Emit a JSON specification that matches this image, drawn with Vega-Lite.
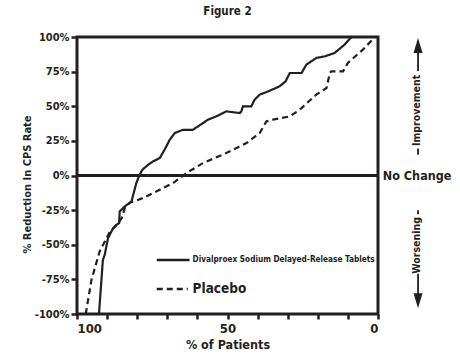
{
  "$schema": "https://vega.github.io/schema/vega-lite/v6.json",
  "width": 301,
  "height": 277,
  "autosize": {"type": "none"},
  "padding": {"left": 77, "top": 37, "right": 82, "bottom": 45},
  "background": "white",
  "title": {"text": "Figure 2", "fontSize": 11.5, "fontWeight": "bold", "font": "Liberation Sans Narrow, DejaVu Sans Condensed, Roboto Condensed, Roboto, sans-serif", "anchor": "middle", "offset": 14, "color": "#231f20"},
  "config": {
    "view": {"stroke": "#231f20", "strokeWidth": 3},
    "font": "Liberation Sans Narrow, DejaVu Sans Condensed, Roboto Condensed, Roboto, sans-serif",
    "axis": {"grid": false, "domain": false, "labelOverlap": false, "labelFont": "Liberation Sans Narrow, DejaVu Sans Condensed, Roboto Condensed, Roboto, sans-serif", "titleFont": "Liberation Sans Narrow, DejaVu Sans Condensed, Roboto Condensed, Roboto, sans-serif", "labelFontWeight": "bold", "titleFontWeight": "bold", "labelColor": "#231f20", "titleColor": "#231f20", "tickColor": "#231f20", "tickWidth": 2.5}
  },
  "datasets": {
    "curves": [
      {"group": "Divalproex", "pct": 92.7, "change": -100},
      {"group": "Divalproex", "pct": 91.4, "change": -61},
      {"group": "Divalproex", "pct": 90.8, "change": -57.3},
      {"group": "Divalproex", "pct": 89.7, "change": -45.3},
      {"group": "Divalproex", "pct": 88.0, "change": -38},
      {"group": "Divalproex", "pct": 86.9, "change": -35.6},
      {"group": "Divalproex", "pct": 86.0, "change": -34.4},
      {"group": "Divalproex", "pct": 85.8, "change": -26},
      {"group": "Divalproex", "pct": 84.2, "change": -22.4},
      {"group": "Divalproex", "pct": 81.9, "change": -18.8},
      {"group": "Divalproex", "pct": 80.3, "change": -5.5},
      {"group": "Divalproex", "pct": 79.2, "change": 0.5},
      {"group": "Divalproex", "pct": 78.3, "change": 4.1},
      {"group": "Divalproex", "pct": 76.4, "change": 7.7},
      {"group": "Divalproex", "pct": 74.8, "change": 10.1},
      {"group": "Divalproex", "pct": 72.5, "change": 12.6},
      {"group": "Divalproex", "pct": 70.9, "change": 18.6},
      {"group": "Divalproex", "pct": 69.2, "change": 25.8},
      {"group": "Divalproex", "pct": 67.5, "change": 30.7},
      {"group": "Divalproex", "pct": 64.8, "change": 33},
      {"group": "Divalproex", "pct": 61.5, "change": 33},
      {"group": "Divalproex", "pct": 58.1, "change": 37.9},
      {"group": "Divalproex", "pct": 56.5, "change": 40.3},
      {"group": "Divalproex", "pct": 53.7, "change": 42.7},
      {"group": "Divalproex", "pct": 50.4, "change": 46.3},
      {"group": "Divalproex", "pct": 45.9, "change": 45.1},
      {"group": "Divalproex", "pct": 45.4, "change": 46.3},
      {"group": "Divalproex", "pct": 44.9, "change": 49.9},
      {"group": "Divalproex", "pct": 42.1, "change": 49.9},
      {"group": "Divalproex", "pct": 41.0, "change": 54.7},
      {"group": "Divalproex", "pct": 39.3, "change": 58.4},
      {"group": "Divalproex", "pct": 36.5, "change": 60.7},
      {"group": "Divalproex", "pct": 32.7, "change": 64.4},
      {"group": "Divalproex", "pct": 30.7, "change": 68},
      {"group": "Divalproex", "pct": 29.3, "change": 74},
      {"group": "Divalproex", "pct": 25.4, "change": 74},
      {"group": "Divalproex", "pct": 23.8, "change": 80},
      {"group": "Divalproex", "pct": 20.5, "change": 84.9},
      {"group": "Divalproex", "pct": 17.7, "change": 86},
      {"group": "Divalproex", "pct": 14.4, "change": 88.5},
      {"group": "Divalproex", "pct": 11.1, "change": 94.5},
      {"group": "Divalproex", "pct": 8.8, "change": 100},
      {"group": "Placebo", "pct": 97.1, "change": -100},
      {"group": "Placebo", "pct": 95.2, "change": -75.4},
      {"group": "Placebo", "pct": 92.5, "change": -55},
      {"group": "Placebo", "pct": 89.1, "change": -40.7},
      {"group": "Placebo", "pct": 86.5, "change": -34.9},
      {"group": "Placebo", "pct": 85.1, "change": -30.6},
      {"group": "Placebo", "pct": 84.1, "change": -23.4},
      {"group": "Placebo", "pct": 82.5, "change": -19.7},
      {"group": "Placebo", "pct": 78.1, "change": -16.3},
      {"group": "Placebo", "pct": 72.5, "change": -10.3},
      {"group": "Placebo", "pct": 68.1, "change": -5.5},
      {"group": "Placebo", "pct": 63.7, "change": 1.7},
      {"group": "Placebo", "pct": 58.1, "change": 9},
      {"group": "Placebo", "pct": 50.4, "change": 16.2},
      {"group": "Placebo", "pct": 43.7, "change": 23.4},
      {"group": "Placebo", "pct": 39.3, "change": 30.7},
      {"group": "Placebo", "pct": 37.1, "change": 39},
      {"group": "Placebo", "pct": 34.9, "change": 40.3},
      {"group": "Placebo", "pct": 29.3, "change": 42.7},
      {"group": "Placebo", "pct": 26.0, "change": 47.5},
      {"group": "Placebo", "pct": 20.5, "change": 58.4},
      {"group": "Placebo", "pct": 17.1, "change": 63.2},
      {"group": "Placebo", "pct": 16.0, "change": 74},
      {"group": "Placebo", "pct": 15.5, "change": 75.2},
      {"group": "Placebo", "pct": 11.6, "change": 75.2},
      {"group": "Placebo", "pct": 10.0, "change": 81.3},
      {"group": "Placebo", "pct": 5.0, "change": 90.9},
      {"group": "Placebo", "pct": 1.0, "change": 100}
    ],
    "zeroLine": [
      {"pct": 100, "change": 0},
      {"pct": 0, "change": 0}
    ],
    "legendLines": [
      {"group": "Divalproex", "pct": 73.5, "change": -61},
      {"group": "Divalproex", "pct": 62.6, "change": -61},
      {"group": "Placebo", "pct": 73.5, "change": -82},
      {"group": "Placebo", "pct": 63.2, "change": -82}
    ],
    "legendText": [
      {"label": "Divalproex Sodium Delayed-Release Tablets", "pct": 61.6, "change": -61, "size": 8.2},
      {"label": "Placebo", "pct": 61.6, "change": -82, "size": 13.5}
    ],
    "sideText": [
      {"label": "Improvement", "pct": -13.1, "change": 47},
      {"label": "Worsening", "pct": -13.1, "change": -50.5}
    ],
    "arrowLines": [
      {"seg": "a", "pct": -13.3, "change": 75.5, "change2": 89},
      {"seg": "b", "pct": -13.3, "change": 15, "change2": 19.5},
      {"seg": "c", "pct": -13.3, "change": -25, "change2": -28},
      {"seg": "d", "pct": -13.3, "change": -71, "change2": -86}
    ],
    "arrowHeads": [
      {"dir": "M-0.6,1L0,-1L0.6,1Z", "pct": -13.3, "change": 93.9},
      {"dir": "M-0.6,-1L0,1L0.6,-1Z", "pct": -13.3, "change": -90.5}
    ],
    "noChange": [
      {"label": "No Change", "pct": -1.6, "change": 0}
    ]
  },
  "encoding": {
    "x": {"field": "pct", "type": "quantitative", "scale": {"domain": [0, 100], "reverse": true, "nice": false},
          "axis": {"title": "% of Patients", "values": [0,10,20,30,40,50,60,70,80,90,100], "labelExpr": "datum.value % 50 == 0 ? datum.value : ''", "tickSize": 5, "labelFontSize": 13, "titleFontSize": 12.5, "labelPadding": 3, "titlePadding": 3}},
    "y": {"field": "change", "type": "quantitative", "scale": {"domain": [-100, 100], "nice": false},
          "axis": {"title": "% Reduction In CPS Rate", "values": [-100,-75,-50,-25,0,25,50,75,100], "labelExpr": "datum.value + '%'", "tickSize": 6, "labelFontSize": 11, "titleFontSize": 11, "labelPadding": 2, "titleX": -45, "titleY": 147, "titleBaseline": "bottom", "titleAngle": 270}}
  },
  "layer": [
    {
      "data": {"name": "curves"},
      "mark": {"type": "line", "color": "#231f20", "strokeWidth": 2.2},
      "encoding": {
        "strokeDash": {"field": "group", "type": "nominal", "scale": {"domain": ["Divalproex", "Placebo"], "range": [[1, 0], [6, 4]]}, "legend": null}
      }
    },
    {
      "data": {"name": "zeroLine"},
      "mark": {"type": "line", "color": "#231f20", "strokeWidth": 3},
      "encoding": {}
    },
    {
      "data": {"name": "legendLines"},
      "mark": {"type": "line", "color": "#231f20", "strokeWidth": 2.5},
      "encoding": {
        "strokeDash": {"field": "group", "type": "nominal", "scale": {"domain": ["Divalproex", "Placebo"], "range": [[1, 0], [5, 3]]}, "legend": null}
      }
    },
    {
      "data": {"name": "legendText"},
      "mark": {"type": "text", "align": "left", "baseline": "middle", "fontWeight": "bold", "color": "#231f20"},
      "encoding": {
        "text": {"field": "label"},
        "size": {"field": "size", "type": "quantitative", "scale": null}
      }
    },
    {
      "data": {"name": "sideText"},
      "mark": {"type": "text", "align": "center", "baseline": "middle", "angle": 270, "fontWeight": "bold", "fontSize": 10.5, "color": "#231f20"},
      "encoding": {
        "text": {"field": "label"}
      }
    },
    {
      "data": {"name": "arrowLines"},
      "mark": {"type": "rule", "color": "#231f20", "strokeWidth": 1.8},
      "encoding": {
        "y2": {"field": "change2"}
      }
    },
    {
      "data": {"name": "arrowHeads"},
      "mark": {"type": "point", "filled": true, "color": "#231f20", "opacity": 1, "size": 225},
      "encoding": {
        "shape": {"field": "dir", "type": "nominal", "scale": null}
      }
    },
    {
      "data": {"name": "noChange"},
      "mark": {"type": "text", "align": "left", "baseline": "middle", "fontWeight": "bold", "fontSize": 12.5, "color": "#231f20"},
      "encoding": {
        "text": {"field": "label"}
      }
    }
  ]
}
